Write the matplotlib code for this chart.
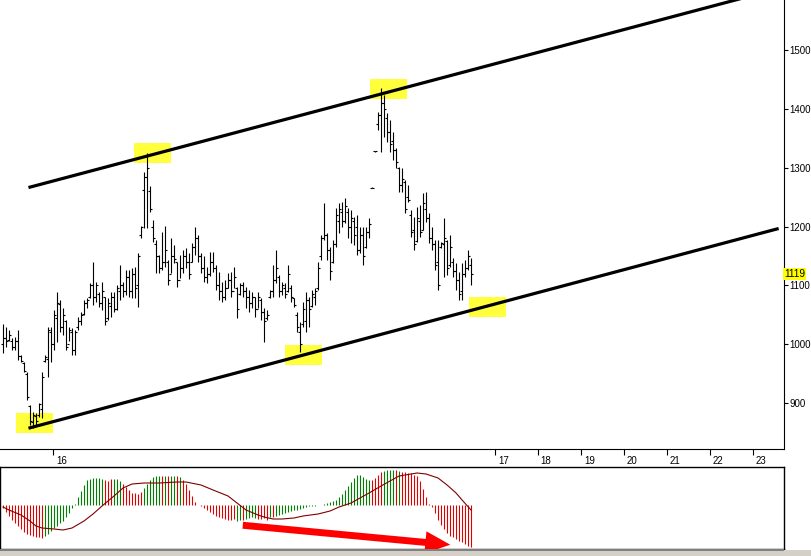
import matplotlib
matplotlib.use("Agg")
import matplotlib.pyplot as plt
import matplotlib.transforms as mtransforms
from matplotlib.patches import Rectangle, FancyArrowPatch

plt.rcParams['font.family'] = ['Liberation Sans', 'DejaVu Sans']

# price bars (one per period)
highs = [1035, 1030, 1025, 1011, 1013, 1025, 982, 970, 952, 897,
         885, 884, 901, 952, 982, 1030, 1030, 1058, 1088, 1076,
         1062, 1042, 1030, 1028, 1025, 1047, 1055, 1076, 1079, 1104,
         1139, 1106, 1088, 1106, 1081, 1079, 1089, 1088, 1101, 1135,
         1106, 1126, 1126, 1130, 1132, 1155, 1201, 1293, 1325, 1269,
         1211, 1177, 1152, 1191, 1201, 1143, 1181, 1169, 1140, 1152,
         1160, 1164, 1155, 1172, 1200, 1186, 1155, 1150, 1132, 1157,
         1157, 1135, 1123, 1106, 1110, 1121, 1123, 1132, 1098, 1104,
         1106, 1098, 1093, 1088, 1081, 1089, 1079, 1062, 1058, 1093,
         1135, 1160, 1118, 1106, 1104, 1135, 1101, 1079, 1055, 1037,
         1071, 1088, 1081, 1093, 1096, 1139, 1186, 1240, 1189, 1166,
         1177, 1232, 1240, 1242, 1249, 1232, 1228, 1217, 1220, 1200,
         1200, 1200, 1215, 1267, 1329, 1395, 1436, 1424, 1393, 1381,
         1361, 1334, 1301, 1300, 1279, 1271, 1228, 1217, 1234, 1237,
         1257, 1259, 1223, 1200, 1177, 1177, 1174, 1215, 1177, 1186,
         1147, 1138, 1123, 1138, 1143, 1160, 1147]
lows = [985, 996, 1005, 991, 991, 974, 970, 952, 906, 863,
        858, 863, 877, 875, 969, 945, 969, 991, 1003, 1021,
        1016, 991, 1005, 982, 982, 1025, 1033, 1050, 1062, 1079,
        1067, 1072, 1064, 1058, 1033, 1042, 1047, 1055, 1058, 1076,
        1081, 1084, 1081, 1079, 1079, 1064, 1181, 1198, 1198, 1225,
        1174, 1121, 1121, 1126, 1132, 1101, 1121, 1138, 1098, 1113,
        1121, 1130, 1111, 1140, 1152, 1140, 1121, 1106, 1104, 1116,
        1123, 1093, 1076, 1072, 1076, 1096, 1081, 1096, 1045, 1084,
        1081, 1062, 1054, 1062, 1047, 1062, 1042, 1003, 1042, 1079,
        1081, 1104, 1081, 1084, 1079, 1088, 1071, 1064, 1021, 986,
        1030, 1021, 1030, 1064, 1067, 1093, 1143, 1177, 1143, 1110,
        1138, 1166, 1189, 1200, 1206, 1181, 1172, 1169, 1152, 1155,
        1135, 1164, 1181, 1265, 1327, 1364, 1327, 1352, 1344, 1327,
        1313, 1300, 1259, 1259, 1223, 1242, 1183, 1160, 1174, 1183,
        1194, 1208, 1172, 1160, 1126, 1093, 1164, 1115, 1118, 1132,
        1115, 1093, 1076, 1076, 1115, 1126, 1101]
opens = [1000, 1010, 1008, 1005, 995, 1005, 980, 968, 950, 895,
         868, 878, 880, 890, 972, 975, 1020, 1000, 1045, 1068,
         1030, 1040, 1000, 1020, 990, 1030, 1040, 1052, 1070, 1080,
         1100, 1080, 1085, 1070, 1080, 1045, 1065, 1080, 1060, 1090,
         1100, 1090, 1115, 1090, 1120, 1100, 1185, 1262, 1285, 1260,
         1200, 1170, 1150, 1130, 1140, 1140, 1120, 1150, 1140, 1110,
         1130, 1150, 1140, 1140, 1165, 1180, 1150, 1130, 1115, 1120,
         1140, 1130, 1100, 1090, 1080, 1095, 1110, 1090, 1095, 1085,
         1100, 1090, 1080, 1070, 1080, 1060, 1075, 1055, 1045, 1080,
         1090, 1110, 1115, 1090, 1095, 1090, 1095, 1078, 1050, 1020,
         1035, 1040, 1075, 1065, 1080, 1095, 1150, 1180, 1185, 1160,
         1140, 1170, 1210, 1225, 1210, 1225, 1200, 1210, 1200, 1160,
         1185, 1165, 1190, 1266, 1328, 1375, 1390, 1410, 1385, 1360,
         1345, 1330, 1300, 1270, 1275, 1250, 1220, 1195, 1175, 1210,
         1195, 1230, 1215, 1180, 1170, 1140, 1165, 1170, 1175, 1135,
         1140, 1125, 1110, 1090, 1120, 1130, 1135]
closes = [1010, 1005, 1015, 995, 1005, 980, 972, 955, 910, 870,
          880, 870, 898, 945, 978, 1025, 1000, 1050, 1070, 1030,
          1050, 995, 1025, 990, 1020, 1040, 1050, 1070, 1075, 1100,
          1080, 1100, 1070, 1090, 1040, 1070, 1080, 1060, 1095, 1100,
          1090, 1115, 1090, 1120, 1095, 1150, 1200, 1285, 1300, 1230,
          1180, 1150, 1130, 1140, 1160, 1110, 1150, 1145, 1110, 1130,
          1150, 1140, 1120, 1165, 1180, 1150, 1130, 1115, 1120, 1140,
          1130, 1100, 1090, 1080, 1095, 1110, 1090, 1115, 1060, 1100,
          1090, 1080, 1070, 1080, 1060, 1080, 1055, 1040, 1050, 1090,
          1110, 1130, 1090, 1100, 1085, 1120, 1080, 1066, 1030, 1000,
          1060, 1075, 1060, 1085, 1090, 1130, 1180, 1185, 1160, 1125,
          1170, 1220, 1230, 1210, 1235, 1200, 1215, 1185, 1160, 1185,
          1150, 1190, 1205, 1266, 1328, 1390, 1410, 1400, 1360, 1340,
          1330, 1310, 1270, 1280, 1230, 1245, 1190, 1170, 1215, 1190,
          1240, 1215, 1180, 1170, 1135, 1100, 1172, 1180, 1130, 1165,
          1125, 1110, 1085, 1120, 1130, 1150, 1119]

# MACD histogram and signal line
hist_vals = [-3, -7, -11, -15, -18, -21, -24, -27, -29, -30,
             -31, -32, -32, -33, -31, -29, -26, -23, -21, -18,
             -16, -12, -8, -3, 1, 8, 14, 20, 25, 26,
             27, 27, 27, 26, 25, 24, 26, 26, 26, 24,
             21, 18, 15, 12, 12, 11, 13, 17, 21, 25,
             28, 29, 29, 29, 29, 29, 29, 29, 29, 28,
             25, 21, 15, 9, 3, 0, -1, -3, -5, -7,
             -9, -11, -12, -13, -14, -15, -15, -14, -16, -15,
             -15, -14, -13, -12, -13, -14, -14, -13, -15, -12,
             -12, -11, -10, -9, -8, -7, -6, -5, -5, -4,
             -3, -2, -1, -0.5, -0.5, -0.3, 0.5, 1, 2, 3,
             4, 5, 8, 11, 15, 19, 23, 27, 30, 30,
             28, 26, 25, 25, 27, 30, 33, 34, 35, 35,
             35, 35, 34, 33, 33, 32, 32, 30, 29, 24,
             16, 8, 1, -2, -8, -15, -20, -24, -28, -31,
             -32, -34, -36, -37, -39, -41, -42]
hist_cols = ("rrrrrrrrrrrrrr" "gggggggggggggggggggg"
             "rrrgggrrrrrrr" "gggggg" "rgrggrgr" "rrrrrrrrrrrrrrrrr"
             "ggrgggg" "rrrrgr" "gggggggggggggggggggggggggggggggg"
             "rrrr" "gggg" "rgrrrrrrrr" "rrrrrrrrrrrrrrrrrr")
sig_idx = [0, 2, 6, 9, 11, 13, 17, 20, 23, 27, 30, 33, 37, 40, 43, 47,
           52, 58, 61, 66, 70, 75, 78, 81, 85, 87, 90, 93, 97, 100, 105,
           109, 112, 116, 119, 122, 126, 129, 132, 136, 138, 141, 145,
           148, 151, 153, 156]
sig_vals = [-2, -5, -10, -16, -21, -23, -24, -25, -23, -16, -9, -1, 9, 17,
            21, 22, 22, 23, 23, 20, 15, 9, 2, -5, -10, -12, -14, -14, -13,
            -11, -9, -6, -2, 2, 7, 12, 19, 24, 29, 31, 32, 31, 27, 20, 12,
            5, -5]

year_pos = [16.7, 164, 178.3, 192.7, 207, 221.3, 235.7, 250]
year_labels = ['16', '17', '18', '19', '20', '21', '22', '23']
price_ticks = [900, 1000, 1100, 1200, 1300, 1400, 1500]

# channel lines (two anchor points each) and highlighted touch points
upper_x, upper_y = [9, 270], [1267, 1620]
lower_x, lower_y = [9, 258], [858, 1196]
pivot_x = [10.5, 49.8, 128.5, 100.2, 161.5]
pivot_y = [867, 1325, 1433, 982, 1064]

n = len(highs)
idx = list(range(n))

fig = plt.figure(figsize=(8.11, 5.56), dpi=100)
ax = fig.add_axes([0, 107 / 556, 784 / 811, 449 / 556])
ax2 = fig.add_axes([0, 7 / 556, 784 / 811, 82 / 556])

# yellow highlight boxes
for px, py in zip(pivot_x, pivot_y):
    ax.add_patch(Rectangle((px - 6.2, py - 17), 12.4, 34,
                           facecolor='#ffff3c', edgecolor='none', zorder=1))

# OHLC bars
ax.vlines(idx, lows, highs, color='black', lw=0.8, zorder=3)
ax.hlines(opens, [i - 0.7 for i in idx], idx, color='black', lw=0.8, zorder=3)
ax.hlines(closes, idx, [i + 0.7 for i in idx], color='black', lw=0.8, zorder=3)

ax.plot(upper_x, upper_y, color='black', lw=2.3, zorder=4)
ax.plot(lower_x, lower_y, color='black', lw=2.3, zorder=4)

ax.set_xlim(-1, 260.3)
ax.set_ylim(822, 1585)
ax.spines['left'].set_visible(False)
ax.spines['top'].set_visible(False)
ax.yaxis.tick_right()
ax.set_yticks(price_ticks)
ax.tick_params(axis='y', direction='out', length=3, width=0.8, pad=1,
               labelsize=7)
ax.set_xticks(year_pos)
ax.set_xticklabels(year_labels)
ax.tick_params(axis='x', direction='out', length=4, width=0.8, pad=1,
               labelsize=7)
shift = mtransforms.ScaledTranslation(2 / 72, 0, fig.dpi_scale_trans)
for lab in ax.get_xticklabels():
    lab.set_horizontalalignment('left')
    lab.set_transform(lab.get_transform() + shift)

# last price label
ax.text(1.0, closes[-1], str(closes[-1]), transform=ax.get_yaxis_transform(),
        ha='left', va='center', fontsize=7.3, color='black',
        bbox=dict(boxstyle='square,pad=0.12', facecolor='#ffff00',
                  edgecolor='none'), zorder=6, clip_on=False)

# MACD panel
for i, v, c in zip(idx, hist_vals, hist_cols):
    ax2.vlines(i, 0, v, color='#008000' if c == 'g' else '#e00000', lw=0.8)
ax2.plot(sig_idx, sig_vals, color='#800000', lw=0.8)
ax2.add_patch(FancyArrowPatch((79, -20), (150, -40),
                              arrowstyle='simple,head_length=18,head_width=16,tail_width=5',
                              mutation_scale=1, color='#ff0000', lw=0,
                              clip_on=False, zorder=5))
ax2.set_xlim(-1, 260.3)
ax2.set_ylim(-44, 38)
ax2.set_xticks([])
ax2.set_yticks([])
for s in ax2.spines.values():
    s.set_linewidth(1.0)

# window border at the bottom
fig.patches.append(Rectangle((0, 0), 1, 6 / 556, transform=fig.transFigure,
                             facecolor='#d4d0c8', edgecolor='none'))
fig.patches.append(Rectangle((0, 5.5 / 556), 784 / 811, 1.2 / 556,
                             transform=fig.transFigure,
                             facecolor='#808080', edgecolor='none'))

fig.savefig('out.png', dpi=100)
